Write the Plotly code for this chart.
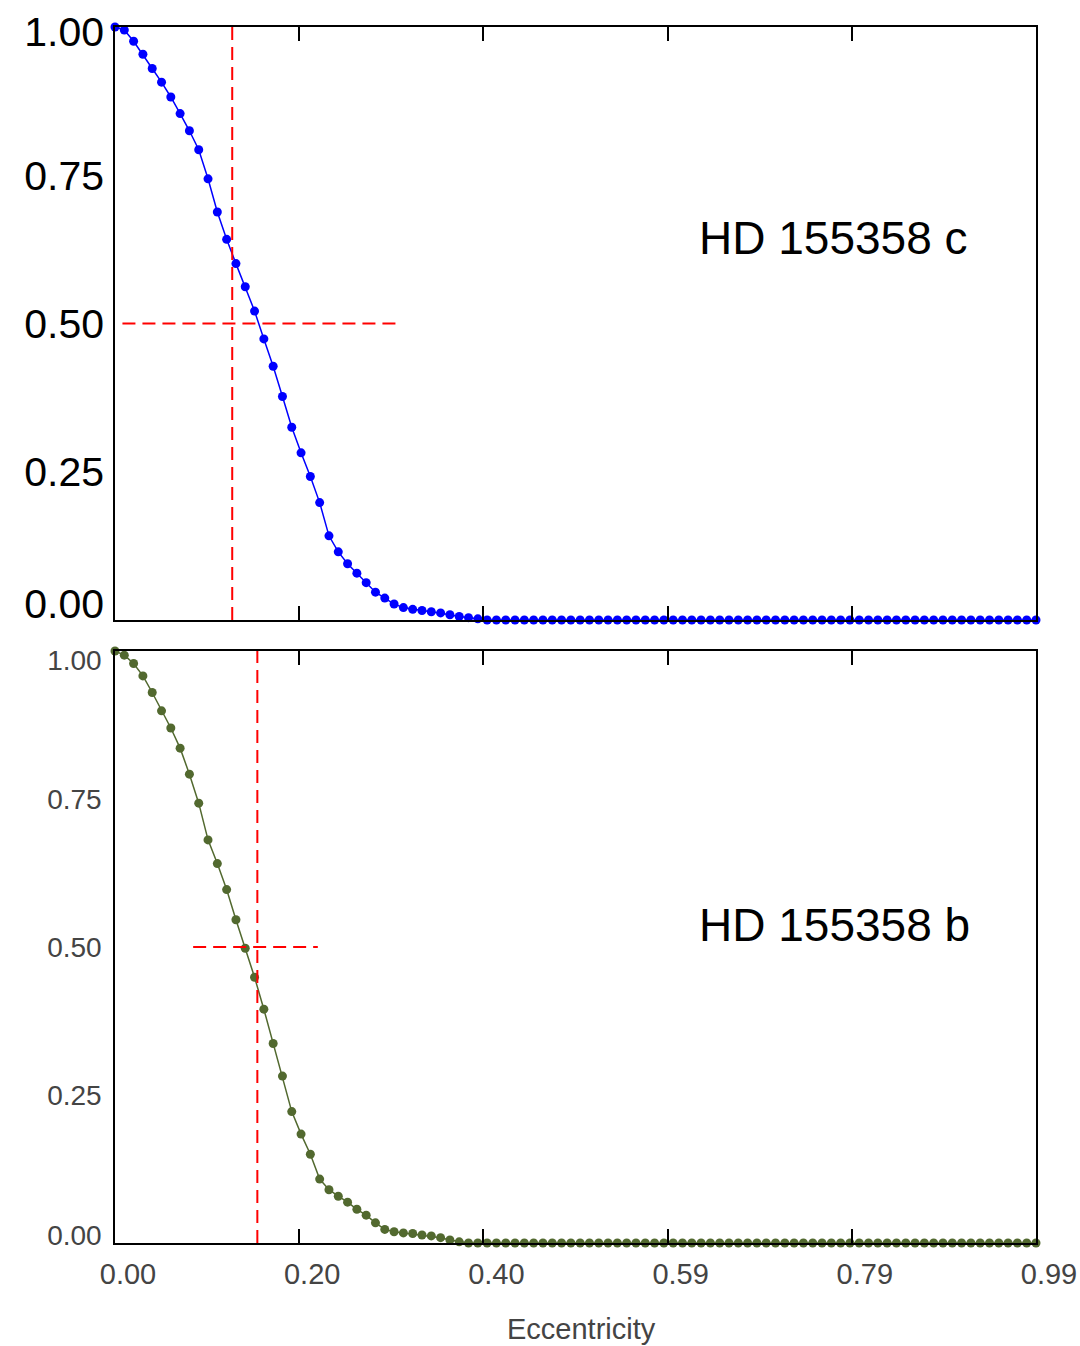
import plotly.graph_objects as go

# Eccentricity grid (0.00 .. 0.99 step 0.01)
ecc = [0.00, 0.01, 0.02, 0.03, 0.04, 0.05, 0.06, 0.07, 0.08, 0.09,
       0.10, 0.11, 0.12, 0.13, 0.14, 0.15, 0.16, 0.17, 0.18, 0.19,
       0.20, 0.21, 0.22, 0.23, 0.24, 0.25, 0.26, 0.27, 0.28, 0.29,
       0.30, 0.31, 0.32, 0.33, 0.34, 0.35, 0.36, 0.37, 0.38, 0.39,
       0.40, 0.41, 0.42, 0.43, 0.44, 0.45, 0.46, 0.47, 0.48, 0.49,
       0.50, 0.51, 0.52, 0.53, 0.54, 0.55, 0.56, 0.57, 0.58, 0.59,
       0.60, 0.61, 0.62, 0.63, 0.64, 0.65, 0.66, 0.67, 0.68, 0.69,
       0.70, 0.71, 0.72, 0.73, 0.74, 0.75, 0.76, 0.77, 0.78, 0.79,
       0.80, 0.81, 0.82, 0.83, 0.84, 0.85, 0.86, 0.87, 0.88, 0.89,
       0.90, 0.91, 0.92, 0.93, 0.94, 0.95, 0.96, 0.97, 0.98, 0.99]

# HD 155358 c (top panel)
prob_c = [1.000, 0.995, 0.976, 0.954, 0.930, 0.907, 0.882, 0.854, 0.825, 0.793,
          0.744, 0.688, 0.642, 0.601, 0.562, 0.521, 0.474, 0.428, 0.377, 0.325,
          0.282, 0.242, 0.198, 0.142, 0.115, 0.095, 0.079, 0.063, 0.047, 0.037,
          0.027, 0.021, 0.018, 0.016, 0.014, 0.012, 0.009, 0.006, 0.004, 0.002,
          0.0, 0.0, 0.0, 0.0, 0.0, 0.0, 0.0, 0.0, 0.0, 0.0,
          0.0, 0.0, 0.0, 0.0, 0.0, 0.0, 0.0, 0.0, 0.0, 0.0,
          0.0, 0.0, 0.0, 0.0, 0.0, 0.0, 0.0, 0.0, 0.0, 0.0,
          0.0, 0.0, 0.0, 0.0, 0.0, 0.0, 0.0, 0.0, 0.0, 0.0,
          0.0, 0.0, 0.0, 0.0, 0.0, 0.0, 0.0, 0.0, 0.0, 0.0,
          0.0, 0.0, 0.0, 0.0, 0.0, 0.0, 0.0, 0.0, 0.0, 0.0]

# HD 155358 b (bottom panel)
prob_b = [1.000, 0.993, 0.979, 0.958, 0.930, 0.899, 0.870, 0.836, 0.792, 0.743,
          0.681, 0.641, 0.597, 0.546, 0.498, 0.449, 0.395, 0.337, 0.282, 0.222,
          0.184, 0.150, 0.108, 0.090, 0.079, 0.069, 0.057, 0.047, 0.034, 0.023,
          0.019, 0.017, 0.016, 0.0135, 0.012, 0.009, 0.005, 0.002, 0.0, 0.0,
          0.0, 0.0, 0.0, 0.0, 0.0, 0.0, 0.0, 0.0, 0.0, 0.0,
          0.0, 0.0, 0.0, 0.0, 0.0, 0.0, 0.0, 0.0, 0.0, 0.0,
          0.0, 0.0, 0.0, 0.0, 0.0, 0.0, 0.0, 0.0, 0.0, 0.0,
          0.0, 0.0, 0.0, 0.0, 0.0, 0.0, 0.0, 0.0, 0.0, 0.0,
          0.0, 0.0, 0.0, 0.0, 0.0, 0.0, 0.0, 0.0, 0.0, 0.0,
          0.0, 0.0, 0.0, 0.0, 0.0, 0.0, 0.0, 0.0, 0.0, 0.0]

x_tickvals = [0.0, 0.198, 0.396, 0.594, 0.792, 0.99]
x_ticktext = ["0.00", "0.20", "0.40", "0.59", "0.79", "0.99"]
y_ticktext = ["0.00", "0.25", "0.50", "0.75", "1.00"]
# label anchor positions (end labels are nudged inward, as in the original)
y_labelpos_top = [0.027, 0.25, 0.5, 0.75, 0.993]
y_labelpos_bottom = [0.0135, 0.25, 0.5, 0.75, 0.985]

# red dashed marker lines
vline_c = 0.126
hline_c = [0.008, 0.302]
vline_b = 0.153
hline_b = [0.084, 0.218]
half = 0.5

labels = ["HD 155358 c", "HD 155358 b"]

fig = go.Figure()
fig.add_trace(go.Scatter(x=ecc, y=prob_c, mode="lines+markers",
                         line=dict(color="#0000ff", width=1.5),
                         marker=dict(color="#0000ff", size=9),
                         cliponaxis=False, xaxis="x", yaxis="y", showlegend=False))
fig.add_trace(go.Scatter(x=ecc, y=prob_b, mode="lines+markers",
                         line=dict(color="#52692f", width=1.5),
                         marker=dict(color="#52692f", size=9),
                         cliponaxis=False, xaxis="x2", yaxis="y2", showlegend=False))

red = dict(color="#ff0000", width=2, dash="13px,7px")
shapes = [
    dict(type="line", xref="x", yref="y", x0=vline_c, x1=vline_c, y0=0, y1=1, line=red),
    dict(type="line", xref="x", yref="y", x0=hline_c[0], x1=hline_c[1], y0=half, y1=half, line=red),
    dict(type="line", xref="x2", yref="y2", x0=vline_b, x1=vline_b, y0=0, y1=1, line=red),
    dict(type="line", xref="x2", yref="y2", x0=hline_b[0], x1=hline_b[1], y0=half, y1=half, line=red),
]

axis_common = dict(range=[0, 0.99], tickvals=x_tickvals, ticktext=x_ticktext,
                   showline=True, linecolor="black", linewidth=1.5, mirror="ticks",
                   ticks="inside", ticklen=14, tickwidth=1.5, tickcolor="black",
                   showgrid=False, zeroline=False, automargin=False)
yaxis_common = dict(range=[0, 1], ticktext=y_ticktext,
                    showline=True, linecolor="black", linewidth=1.5, mirror=True,
                    ticks="", showgrid=False, zeroline=False, automargin=False)

fig.update_layout(
    width=1080, height=1346,
    margin=dict(l=115, r=44, t=27, b=103, autoexpand=False),
    plot_bgcolor="white", paper_bgcolor="white",
    showlegend=False,
    xaxis=dict(axis_common, domain=[0, 1], anchor="y", showticklabels=False),
    yaxis=dict(yaxis_common, tickvals=y_labelpos_top, domain=[0.5123, 1.0], anchor="x",
               tickfont=dict(family="Liberation Sans", size=41, color="black"),
               ticklabelstandoff=1),
    xaxis2=dict(axis_common, domain=[0, 1], anchor="y2", showticklabels=True,
                tickfont=dict(family="Liberation Sans", size=29, color="#444444"),
                ticklabelshift=13, ticklabelstandoff=4),
    yaxis2=dict(yaxis_common, tickvals=y_labelpos_bottom, domain=[0.0, 0.4868], anchor="x2",
                tickfont=dict(family="Liberation Sans", size=28, color="#444444"),
                ticklabelstandoff=6),
    shapes=shapes,
    annotations=[
        dict(text=labels[0], xref="x", yref="y", x=0.626, y=0.645,
             xanchor="left", yanchor="middle", showarrow=False,
             font=dict(family="Liberation Sans", size=46, color="black")),
        dict(text=labels[1], xref="x2", yref="y2", x=0.626, y=0.537,
             xanchor="left", yanchor="middle", showarrow=False,
             font=dict(family="Liberation Sans", size=46, color="black")),
        dict(text="Eccentricity", xref="paper", yref="paper", x=0.507, y=-0.0706,
             xanchor="center", yanchor="middle", showarrow=False,
             font=dict(family="Liberation Sans", size=29, color="#444444")),
    ],
)

fig.write_html("out.html")
